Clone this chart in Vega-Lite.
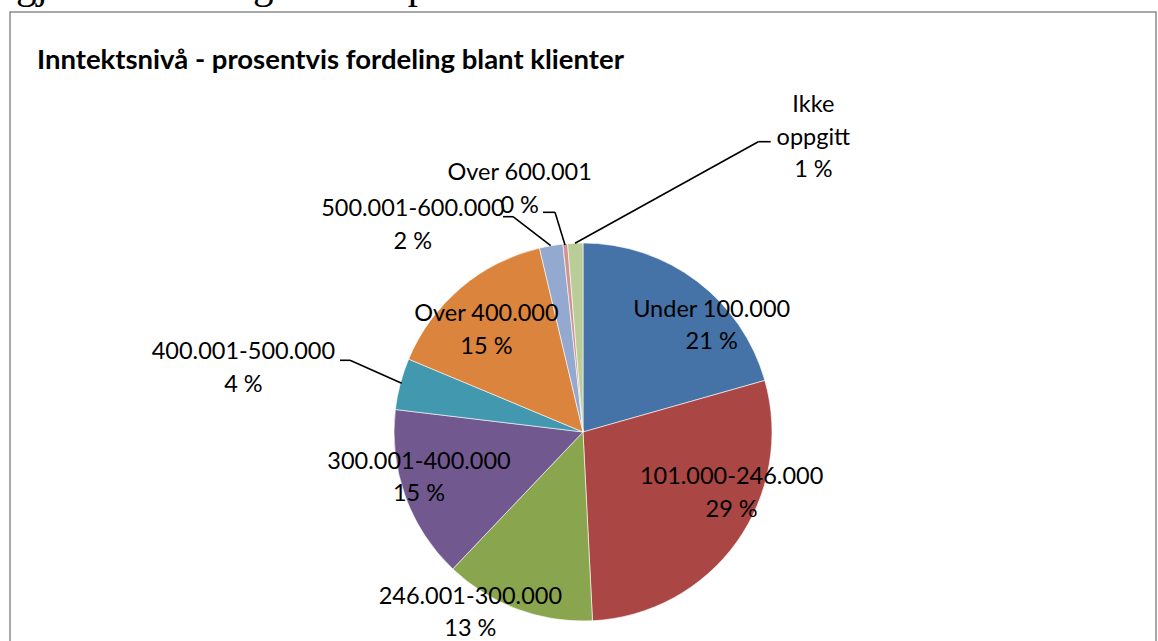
{
  "$schema": "https://vega.github.io/schema/vega-lite/v6.json",
  "width": 1146,
  "height": 640,
  "padding": {"left": 10, "top": 12, "right": 2, "bottom": 0},
  "autosize": {"type": "none"},
  "background": "white",
  "config": {"view": {"stroke": "#8c8c8c", "strokeWidth": 1.5}},
  "title": {
    "text": "gjennomsnittlig inntekt på landsbasis.",
    "subtitle": "\u2800Inntektsnivå - prosentvis fordeling blant klienter",
    "anchor": "start",
    "frame": "group",
    "font": "Liberation Serif",
    "fontSize": 41,
    "fontWeight": "normal",
    "color": "black",
    "baseline": "alphabetic",
    "subtitleFont": "Lato",
    "subtitleFontSize": 27.5,
    "subtitleFontWeight": "bold",
    "subtitleColor": "black",
    "subtitlePadding": 30,
    "offset": -95.5,
    "dx": 6
  },
  "datasets": {
    "klienter": [
      {"idx": 1, "category": "Under 100.000", "value": 20.6},
      {"idx": 2, "category": "101.000-246.000", "value": 28.6},
      {"idx": 3, "category": "246.001-300.000", "value": 12.9},
      {"idx": 4, "category": "300.001-400.000", "value": 14.8},
      {"idx": 5, "category": "400.001-500.000", "value": 4.4},
      {"idx": 6, "category": "Over 400.000", "value": 15.0},
      {"idx": 7, "category": "500.001-600.000", "value": 2.0},
      {"idx": 8, "category": "Over 600.001", "value": 0.4},
      {"idx": 9, "category": "Ikke oppgitt", "value": 1.3}
    ],
    "leaders": [
      {"x": -1.2857, "y": 0.3794, "x2": -1.2328, "y2": 0.3794},
      {"x": -1.2328, "y": 0.3794, "x2": -0.9593, "y2": 0.2577},
      {"x": -0.4233, "y": 1.1392, "x2": -0.3704, "y2": 1.1392},
      {"x": -0.3704, "y": 1.1392, "x2": -0.1709, "y2": 0.9857},
      {"x": -0.2116, "y": 1.1624, "x2": -0.1481, "y2": 1.1624},
      {"x": -0.1481, "y": 1.1624, "x2": -0.0952, "y2": 0.9894},
      {"x": 0.9931, "y": 1.536, "x2": 0.9275, "y2": 1.536},
      {"x": 0.9275, "y": 1.536, "x2": -0.0423, "y2": 0.9984}
    ]
  },
  "layer": [
    {
      "data": {"name": "klienter"},
      "transform": [
        {"calculate": "datum.category == 'Ikke oppgitt' ? ['Ikke', 'oppgitt', format(datum.value, '.0f') + ' %'] : [datum.category, format(datum.value, '.0f') + ' %']", "as": "lbl"}
      ],
      "encoding": {
        "theta": {"field": "value", "type": "quantitative", "stack": true},
        "order": {"field": "idx"},
        "detail": {"field": "category"},
        "x": {"datum": 0, "type": "quantitative", "axis": null},
        "y": {"datum": 0, "type": "quantitative", "axis": null}
      },
      "layer": [
        {
          "mark": {"type": "arc", "outerRadius": 189, "stroke": "white", "strokeWidth": 0.6},
          "encoding": {
            "color": {
              "field": "category",
              "type": "nominal",
              "scale": {
                "domain": ["Under 100.000", "101.000-246.000", "246.001-300.000", "300.001-400.000", "400.001-500.000", "Over 400.000", "500.001-600.000", "Over 600.001", "Ikke oppgitt"],
                "range": ["#4572A7", "#AA4643", "#89A54E", "#71588F", "#4198AF", "#DB843D", "#93A9CF", "#D19392", "#B9CD96"]
              },
              "legend": null
            }
          }
        },
        {
          "mark": {"type": "text", "font": "Lato", "fontSize": 23.5, "lineHeight": 32.5, "align": "center", "baseline": "middle", "radius": 162, "dx": 31, "dy": 7},
          "encoding": {"text": {"condition": {"test": "datum.category == 'Under 100.000'", "field": "lbl"}, "value": ""}}
        },
        {
          "mark": {"type": "text", "font": "Lato", "fontSize": 23.5, "lineHeight": 32.5, "align": "center", "baseline": "middle", "radius": 157, "dx": 21, "dy": -46},
          "encoding": {"text": {"condition": {"test": "datum.category == '101.000-246.000'", "field": "lbl"}, "value": ""}}
        },
        {
          "mark": {"type": "text", "font": "Lato", "fontSize": 23.5, "lineHeight": 32.5, "align": "center", "baseline": "middle", "radius": 209, "dx": -40, "dy": -31},
          "encoding": {"text": {"condition": {"test": "datum.category == '246.001-300.000'", "field": "lbl"}, "value": ""}}
        },
        {
          "mark": {"type": "text", "font": "Lato", "fontSize": 23.5, "lineHeight": 32.5, "align": "center", "baseline": "middle", "radius": 170, "dx": -4, "dy": -28},
          "encoding": {"text": {"condition": {"test": "datum.category == '300.001-400.000'", "field": "lbl"}, "value": ""}}
        },
        {
          "mark": {"type": "text", "font": "Lato", "fontSize": 23.5, "lineHeight": 32.5, "align": "center", "baseline": "middle", "radius": 345, "dx": -6, "dy": 8},
          "encoding": {"text": {"condition": {"test": "datum.category == '400.001-500.000'", "field": "lbl"}, "value": ""}}
        },
        {
          "mark": {"type": "text", "font": "Lato", "fontSize": 23.5, "lineHeight": 32.5, "align": "center", "baseline": "middle", "radius": 140, "dx": -6, "dy": -11},
          "encoding": {"text": {"condition": {"test": "datum.category == 'Over 400.000'", "field": "lbl"}, "value": ""}}
        },
        {
          "mark": {"type": "text", "font": "Lato", "fontSize": 23.5, "lineHeight": 32.5, "align": "center", "baseline": "middle", "radius": 232, "dx": -131, "dy": 6},
          "encoding": {"text": {"condition": {"test": "datum.category == '500.001-600.000'", "field": "lbl"}, "value": ""}}
        },
        {
          "mark": {"type": "text", "font": "Lato", "fontSize": 23.5, "lineHeight": 32.5, "align": "center", "baseline": "middle", "radius": 248, "dx": -40, "dy": -12},
          "encoding": {"text": {"condition": {"test": "datum.category == 'Over 600.001'", "field": "lbl"}, "value": ""}}
        },
        {
          "mark": {"type": "text", "font": "Lato", "fontSize": 23.5, "lineHeight": 32.5, "align": "center", "baseline": "middle", "radius": 285, "dx": 242, "dy": -42},
          "encoding": {"text": {"condition": {"test": "datum.category == 'Ikke oppgitt'", "field": "lbl"}, "value": ""}}
        }
      ]
    },
    {
      "data": {"name": "leaders"},
      "mark": {"type": "rule", "color": "black", "strokeWidth": 1.6},
      "encoding": {
        "x": {
          "field": "x",
          "type": "quantitative",
          "scale": {"domain": [-3.03175, 3.03175], "nice": false, "zero": false},
          "axis": null
        },
        "x2": {"field": "x2"},
        "y": {
          "field": "y",
          "type": "quantitative",
          "scale": {"domain": [-1.16402, 2.22222], "nice": false, "zero": false},
          "axis": null
        },
        "y2": {"field": "y2"}
      }
    }
  ]
}
